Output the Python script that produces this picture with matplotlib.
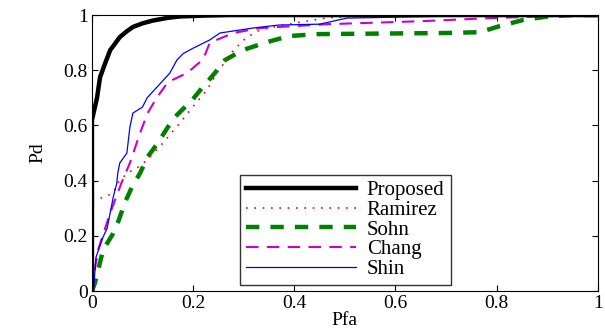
import matplotlib
matplotlib.use('Agg')
from matplotlib import pyplot as plt

# ROC curves (Pfa, Pd)
proposed_pfa = [0.0, 0.0, 0.005, 0.01, 0.016, 0.025, 0.036, 0.045, 0.055, 0.068, 0.081, 0.1, 0.12, 0.15, 0.174, 0.22, 0.27, 1.0]
proposed_pd = [0.0, 0.62, 0.66, 0.70, 0.775, 0.82, 0.873, 0.895, 0.92, 0.94, 0.957, 0.97, 0.98, 0.99, 0.995, 0.998, 1.0, 1.0]

ramirez_pfa = [0.0, 0.0, 0.006, 0.022, 0.042, 0.05, 0.069, 0.089, 0.109, 0.14, 0.174, 0.194, 0.227, 0.247, 0.28, 0.306, 0.332, 0.378, 0.464, 0.55, 1.0]
ramirez_pd = [0.0, 0.33, 0.33, 0.34, 0.355, 0.39, 0.427, 0.446, 0.475, 0.536, 0.609, 0.656, 0.728, 0.79, 0.873, 0.92, 0.946, 0.964, 0.99, 1.0, 1.0]

sohn_pfa = [0.0, 0.006, 0.022, 0.04, 0.053, 0.065, 0.079, 0.095, 0.11, 0.13, 0.15, 0.168, 0.198, 0.219, 0.243, 0.263, 0.298, 0.346, 0.39, 0.445, 0.70, 0.767, 0.806, 0.852, 0.905, 0.95, 1.0]
sohn_pd = [0.0, 0.03, 0.149, 0.203, 0.257, 0.32, 0.377, 0.427, 0.486, 0.536, 0.594, 0.638, 0.692, 0.739, 0.79, 0.837, 0.873, 0.902, 0.924, 0.931, 0.935, 0.938, 0.96, 0.982, 0.996, 1.0, 1.0]

chang_pfa = [0.0, 0.003, 0.012, 0.036, 0.059, 0.075, 0.095, 0.11, 0.128, 0.15, 0.188, 0.22, 0.233, 0.28, 0.332, 0.465, 0.654, 0.787, 0.905, 0.95, 1.0]
chang_pd = [0.0, 0.05, 0.149, 0.283, 0.395, 0.464, 0.572, 0.645, 0.70, 0.757, 0.79, 0.84, 0.90, 0.935, 0.953, 0.967, 0.978, 0.989, 0.996, 1.0, 1.0]

shin_pfa = [0.0, 0.003, 0.008, 0.022, 0.03, 0.036, 0.042, 0.049, 0.051, 0.055, 0.069, 0.075, 0.081, 0.1, 0.109, 0.134, 0.154, 0.168, 0.18, 0.2, 0.233, 0.253, 0.318, 0.37, 0.45, 0.504, 0.707, 1.0]
shin_pd = [0.0, 0.0, 0.123, 0.196, 0.228, 0.283, 0.34, 0.39, 0.427, 0.464, 0.5, 0.594, 0.645, 0.667, 0.70, 0.75, 0.79, 0.837, 0.86, 0.88, 0.91, 0.935, 0.953, 0.964, 0.967, 0.989, 0.996, 1.0]

plt.rcParams['font.family'] = ['Liberation Serif', 'DejaVu Serif']
plt.rcParams['font.size'] = 14

fig = plt.figure(figsize=(6.05, 3.35), dpi=100)
ax = fig.add_axes([0.152, 0.131, 0.836, 0.824])

ax.plot(proposed_pfa, proposed_pd, color='black', linewidth=3.2, label='Proposed', zorder=6)
ax.plot(ramirez_pfa, ramirez_pd, color='red', linestyle=(0, (1, 4)), linewidth=1.2, label='Ramirez', zorder=4)
ax.plot(sohn_pfa, sohn_pd, color='green', linestyle=(0, (3, 2.5)), linewidth=3.2, label='Sohn', zorder=3)
ax.plot(chang_pfa, chang_pd, color='#cc00cc', linestyle=(0, (6, 4)), linewidth=1.5, label='Chang', zorder=4)
ax.plot(shin_pfa, shin_pd, color='blue', linewidth=0.9, label='Shin', zorder=5)

ax.set_xlim(0, 1)
ax.set_ylim(0, 1)
ax.set_xticks([0, 0.2, 0.4, 0.6, 0.8, 1])
ax.set_xticklabels(['0', '0.2', '0.4', '0.6', '0.8', '1'])
ax.set_yticks([0, 0.2, 0.4, 0.6, 0.8, 1])
ax.set_yticklabels(['0', '0.2', '0.4', '0.6', '0.8', '1'])
ax.tick_params(direction='in', top=True, right=True, labelsize=14, length=4, pad=3)
ax.set_xlabel('Pfa', fontsize=14, labelpad=0)
ax.set_ylabel('Pd', fontsize=14, labelpad=12)

leg = ax.legend(loc='lower left', bbox_to_anchor=(0.292, 0.022), fontsize=15,
                frameon=True, fancybox=False, edgecolor='black', handlelength=5.3,
                borderpad=0.3, labelspacing=0.0, handletextpad=0.5, borderaxespad=0)
leg.get_frame().set_linewidth(1.0)

plt.savefig('out.png', dpi=100)
plt.close()
